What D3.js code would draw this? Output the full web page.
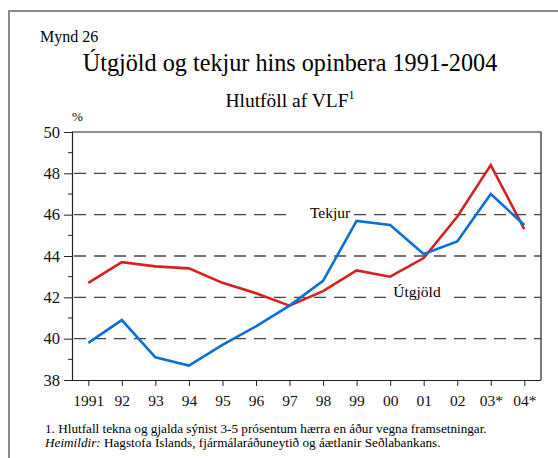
<!DOCTYPE html>
<html lang="is">
<head>
<meta charset="UTF-8" />
<title>Mynd 26</title>
<script src="https://d3js.org/d3.v7.min.js"></script>
<style>
  body { margin: 0; background: #fff; }
</style>
</head>
<body>
<svg width="558" height="458"></svg>
<script>
  // data
  const years = ["1991", "92", "93", "94", "95", "96", "97", "98", "99", "00", "01", "02", "03*", "04*"];
  const utgjold = [42.7, 43.7, 43.5, 43.4, 42.7, 42.2, 41.6, 42.3, 43.3, 43.0, 43.9, 45.9, 48.4, 45.3];
  const tekjur = [39.8, 40.9, 39.1, 38.7, 39.7, 40.6, 41.6, 42.8, 45.7, 45.5, 44.1, 44.7, 47.0, 45.5];
  const yTicks = [38, 40, 42, 44, 46, 48, 50];
  const yMinor = [39, 41, 43, 45, 47, 49];
  const gridVals = [40, 42, 44, 46, 48];

  const serif = '"Liberation Serif"';
  const svg = d3.select("svg");

  // outer frame (top and left edges)
  svg.append("path")
    .attr("d", "M9,458 V11 H558")
    .attr("fill", "none")
    .attr("stroke", "#8a8a8a")
    .attr("stroke-width", 2);

  svg.append("text").attr("x", 40).attr("y", 42)
    .style("font-family", serif).style("font-size", "16px").text("Mynd 26");
  svg.append("text").attr("x", 290).attr("y", 71)
    .attr("text-anchor", "middle").style("font-family", serif).style("font-size", "24.2px")
    .text("Útgjöld og tekjur hins opinbera 1991-2004");
  const sub = svg.append("text").attr("x", 290).attr("y", 107)
    .attr("text-anchor", "middle").style("font-family", serif).style("font-size", "19.5px");
  sub.append("tspan").text("Hlutföll af VLF");
  sub.append("tspan").style("font-size", "12px").attr("dy", -8).text("1");

  const plotL = 72, plotR = 541, plotT = 132, plotB = 380;

  const x = d3.scalePoint().domain(years).range([88.3, 524.3]);
  const y = d3.scaleLinear().domain([38, 50]).range([plotB, plotT]);

  // dashed gridlines
  svg.append("g").selectAll("line")
    .data(gridVals).join("line")
    .attr("x1", plotL + 2).attr("x2", plotR)
    .attr("y1", d => y(d)).attr("y2", d => y(d))
    .attr("stroke", "#444").attr("stroke-width", 1.3)
    .attr("stroke-dasharray", "12,8");

  // plot box: top and right
  svg.append("path")
    .attr("d", `M${plotL},${y(50)} H${plotR} V${plotB}`)
    .attr("fill", "none").attr("stroke", "#222").attr("stroke-width", 1.2);

  // y axis
  const yAxis = svg.append("g").attr("transform", `translate(${plotL},0)`)
    .call(d3.axisLeft(y).tickValues(yTicks).tickSize(8).tickPadding(4).tickFormat(d3.format("d")));
  yAxis.attr("font-family", null);
  yAxis.select(".domain").attr("stroke", "#222").attr("stroke-width", 1.2);
  yAxis.selectAll(".tick line").attr("stroke", "#222");
  yAxis.selectAll("text").style("font-family", serif).style("font-size", "16.5px").attr("fill", "#111");
  svg.append("g").attr("transform", `translate(${plotL},0)`)
    .selectAll("line").data(yMinor).join("line")
    .attr("x1", -4).attr("x2", 0)
    .attr("y1", d => y(d)).attr("y2", d => y(d))
    .attr("stroke", "#222");

  svg.append("text").attr("x", 72).attr("y", 121)
    .style("font-family", serif).style("font-size", "13px").text("%");

  // x axis
  const xAxis = svg.append("g").attr("transform", `translate(0,${plotB})`)
    .call(d3.axisBottom(x).tickSize(6).tickPadding(9).tickSizeOuter(0));
  xAxis.attr("font-family", null);
  xAxis.select(".domain").attr("d", `M${plotL},0.5H${plotR}`).attr("stroke", "#222").attr("stroke-width", 1.2);
  xAxis.selectAll(".tick line").attr("stroke", "#222");
  xAxis.selectAll("text").style("font-family", serif).style("font-size", "15.5px").attr("fill", "#111");

  // label backgrounds knock out gridlines
  svg.append("rect").attr("x", 291).attr("y", 206).attr("width", 60).attr("height", 16).attr("fill", "#fff");
  svg.append("rect").attr("x", 388).attr("y", 286).attr("width", 66).attr("height", 16).attr("fill", "#fff");

  const line = d3.line().x((d, i) => x(years[i])).y(d => y(d));

  svg.append("path").datum(utgjold)
    .attr("d", line).attr("fill", "none")
    .attr("stroke", "#d42222").attr("stroke-width", 2.6);
  svg.append("path").datum(tekjur)
    .attr("d", line).attr("fill", "none")
    .attr("stroke", "#0b6fd3").attr("stroke-width", 2.6);

  svg.append("text").attr("x", 330).attr("y", 218)
    .attr("text-anchor", "middle").style("font-family", serif).style("font-size", "15.5px").text("Tekjur");
  svg.append("text").attr("x", 417).attr("y", 297)
    .attr("text-anchor", "middle").style("font-family", serif).style("font-size", "15.5px").text("Útgjöld");

  // footnotes
  svg.append("text").attr("x", 45).attr("y", 433).style("font-family", serif).style("font-size", "13.2px")
    .text("1. Hlutfall tekna og gjalda sýnist 3-5 prósentum hærra en áður vegna framsetningar.");
  const src = svg.append("text").attr("x", 45).attr("y", 447).style("font-family", serif).style("font-size", "13.2px");
  src.append("tspan").style("font-style", "italic").text("Heimildir:");
  src.append("tspan").text(" Hagstofa Íslands, fjármálaráðuneytið og áætlanir Seðlabankans.");
</script>
</body>
</html>
